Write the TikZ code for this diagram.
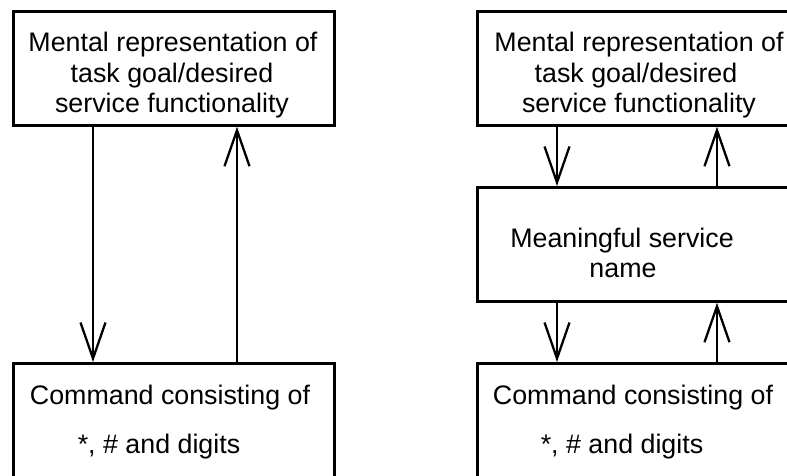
\documentclass[tikz,border=0pt]{standalone}
\usepackage{fontspec}
\setmainfont{Liberation Sans}
\usetikzlibrary{arrows.meta}
\begin{document}
\begin{tikzpicture}[x=1pt,y=-1pt,
  box/.style={draw=black, line width=2.7pt, rectangle, anchor=north west, inner sep=0pt},
  txt/.style={anchor=base, inner sep=0pt, font=\fontsize{26.8}{31}\selectfont},
  flow/.style={draw=black, line width=2.3pt, -{Straight Barb[length=36pt,width=25pt,line width=2.3pt]}}]
  \useasboundingbox (0,0) rectangle (787,475);
  % left column
  \node[box, minimum width=321pt, minimum height=114pt] (L1) at (12,10) {};
  \node[box, minimum width=321pt, minimum height=128pt] (L2) at (12,362) {};
  % right column
  \node[box, minimum width=326pt, minimum height=114pt] (R1) at (476,10) {};
  \node[box, minimum width=326pt, minimum height=114pt] (R2) at (476,186) {};
  \node[box, minimum width=326pt, minimum height=128pt] (R3) at (476,362) {};
  % labels
  \node[txt] (l1a) at (173,51) {Mental representation of};
  \node[txt] (l1b) at (172,82) {task goal/desired};
  \node[txt] (l1c) at (172,112) {service functionality};
  \node[txt] (l2a) at (170,404) {Command consisting of};
  \node[txt] (l2b) at (159,453) {*, \# and digits};
  \node[txt] (r1a) at (639,51) {Mental representation of};
  \node[txt] (r1b) at (636,82) {task goal/desired};
  \node[txt] (r1c) at (639,112) {service functionality};
  \node[txt] (r2a) at (622,247) {Meaningful service};
  \node[txt] (r2b) at (623,277) {name};
  \node[txt] (r3a) at (633,404) {Command consisting of};
  \node[txt] (r3b) at (622,453) {*, \# and digits};
  % connector columns
  \coordinate (xld) at (93,0);
  \coordinate (xlu) at (237,0);
  \coordinate (xrd) at (557,0);
  \coordinate (xru) at (717,0);
  \draw[flow] (L1.south -| xld) -- (L2.north -| xld);
  \draw[flow] (L2.north -| xlu) -- (L1.south -| xlu);
  \draw[flow] (R1.south -| xrd) -- (R2.north -| xrd);
  \draw[flow] (R2.north -| xru) -- (R1.south -| xru);
  \draw[flow] (R2.south -| xrd) -- (R3.north -| xrd);
  \draw[flow] (R3.north -| xru) -- (R2.south -| xru);
\end{tikzpicture}
\end{document}
